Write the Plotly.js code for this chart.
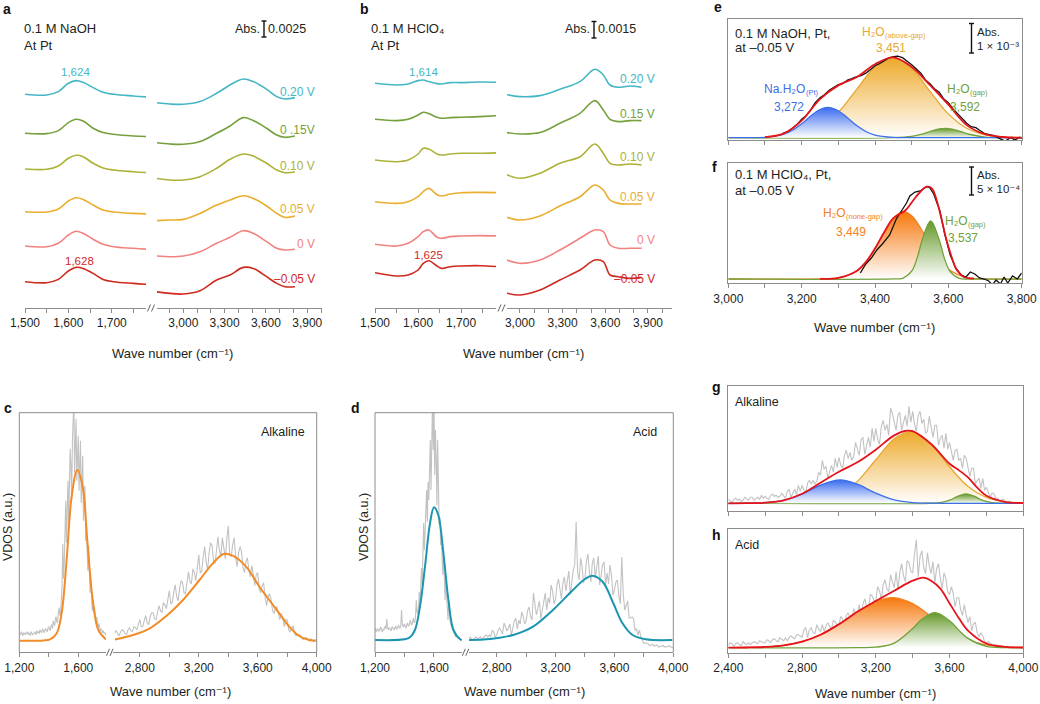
<!DOCTYPE html>
<html>
<head>
<meta charset="utf-8">
<script src="https://cdn.plot.ly/plotly-3.0.1.min.js"></script>
<style>html,body{margin:0;padding:0;background:#fff;}#chart{width:1040px;height:704px;}</style>
</head>
<body>
<div id="chart"></div>
<script>
// ---------------- DATA ----------------
// Panel a: 0.1 M NaOH, stacked spectra (heights relative to each trace's own baseline)
const aPotentials = ['0.20 V', '0 .15V', '0.10 V', '0.05 V', '0 V', '–0.05 V'];
const aOffsets = [215.7, 176.7, 141, 98.3, 64, 28.3];
const aLeftWn = [1500, 1550, 1577, 1600, 1618, 1634, 1657, 1680, 1704, 1750, 1785];
const aRightWn = [2802, 2903, 3000, 3121, 3242, 3339, 3435, 3508, 3605, 3678, 3738, 3810];
const aLeft020 = [0, -0.7, 2.7, 11, 13.7, 12, 6.7, 2, 0, -1.7, -2.7];
const aLeft015 = [0, -0.3, 2.7, 10.7, 14, 12.3, 5, 0.7, -1, -2.7, -3.3];
const aLeft010 = [0, -0.3, 3, 10.7, 13.7, 12.3, 5.7, 1, -1, -2.7, -3.7];
const aLeft005 = [0, -0.3, 2.7, 10.7, 14, 12.3, 6.7, 1.7, -0.3, -1.7, -2.3];
const aLeft000 = [0, -0.7, 2.7, 11, 14.7, 12.7, 6.7, 1.7, -0.7, -2.3, -3.3];
const aLeftM005 = [0, -1, 2.3, 10.7, 14.3, 13.3, 8.3, 2.3, 0, -1.7, -2.7];
const aRight020 = [-8.3, -9.7, -10, -7.3, 1, 9.3, 15.3, 12.7, 5, -2.3, -4.7, -3.3];
const aRight015 = [-9.3, -10.7, -11, -8.3, 0, 7.3, 15.7, 12.7, 5, -1.7, -4, -2.7];
const aRight010 = [-9.3, -11, -11, -7.7, 0.7, 9.7, 15, 13, 5.7, -1, -3.7, -3];
const aRight005 = [-9, -8.3, -7.7, -1.7, 6.7, 11.7, 16, 13.3, 5.7, -1.7, -5.7, -4.3];
const aRight000 = [-10, -10.7, -10, -5.7, 2.7, 8.7, 15.3, 12.7, 4.3, -2.3, -4, -3.3];
const aRightM005 = [-10, -11.7, -12.3, -9, 1.7, 6.7, 14.3, 13.3, 5, -1.7, -5, -5];

// Panel b: 0.1 M HClO4
const bPotentials = ['0.20 V', '0.15 V', '0.10 V', '0.05 V', '0 V', '–0.05 V'];
const bOffsets = [226.7, 190.7, 150, 108.3, 65.7, 37.3];
const bLeftWn = [1500, 1550, 1577, 1600, 1612, 1625, 1644, 1655, 1675, 1700, 1744, 1790];
const bRightWn = [2895, 3000, 3141, 3281, 3422, 3527, 3586, 3633, 3691, 3773, 3855];
const bLeft020 = [0, -1.7, -0.7, 2.7, 3.3, 1.7, -0.3, -0.7, 0.7, 0.7, 1.3, 1];
const bLeft015 = [0, -1.3, 0, 4.3, 7, 5.7, 2, 1, 1.7, 2, 2.7, 3.7];
const bLeft010 = [0, -1.7, 0, 6, 11.7, 11, 6, 5, 6, 6.7, 6.7, 7.3];
const bLeft005 = [0, -1.7, 0, 5, 10, 13.3, 7, 5.7, 7.7, 9, 9.3, 9];
const bLeft000 = [0, -1.7, 1, 7.7, 12.7, 14.3, 7, 6, 7.7, 8.3, 8.7, 8.3];
const bLeftM005 = [0, -3.3, -2.3, 2.7, 9.3, 12, 6.7, 4.3, 6, 6.7, 7, 6];
const bRight020 = [-11, -13.3, -12.3, -6, 1.7, 14, 8.3, -1.7, -4, -2.7, -4];
const bRight015 = [-13, -14.7, -13.3, -4, 6, 18.7, 9.3, 0, -2.3, -1.3, -1.3];
const bRight010 = [-14, -18.3, -13.3, -3.3, 3.3, 16, 6.7, -3.3, -5, -4, -5];
const bRight005 = [-15, -18.3, -14.3, -4.3, 5, 16.7, 11.7, 1.7, -1.7, -2.3, -2.3];
const bRight000 = [-15, -19, -15.7, -5.7, 6, 14.3, 12.7, -0.7, -4, -4, -4];
const bRightM005 = [-20, -22.3, -17.3, -7.3, 2.7, 12.7, 11, -2.3, -4, -5.7, -4.7];

// Panel c: VDOS alkaline
const cGrayLeftStart = 1200, cGrayLeftStep = 5;
const cGrayLeft = [8,6,7,9,6,5,8,7,6,8,7,9,6,8,7,5,9,8,6,7,
 7,9,8,6,10,8,9,7,11,9,8,10,12,9,8,11,12,10,9,13,
 14,11,10,15,16,12,20,17,15,22,24,18,19,28,33,25,
 28,40,55,97,62,78,108,140,98,125,160,118,150,192,175,140,198,210,240,168,190,222,160,185,
 205,150,172,200,138,160,185,120,140,155,100,118,90,70,95,55,48,62,36,30,40,
 28,34,22,18,24,15,13,17,11,10,12,9,8,10,7,8,6,7];
const cGrayRightStart = 2630, cGrayRightStep = 10;
const cGrayRight = [8,10,7,5,9,11,10,7,6,11,
 13,10,9,14,13,11,16,21,14,14,
 20,25,18,16,24,28,28,22,21,30,
 35,30,28,38,36,32,42,50,37,38,
 48,56,44,40,52,60,58,48,47,61,
 69,59,57,72,68,60,76,86,68,69,
 84,94,78,71,88,98,95,80,77,95,
 104,90,85,103,94,82,101,115,86,84,
 96,103,84,74,88,94,89,73,68,79,
 83,70,64,75,66,55,66,68,52,48,
 55,58,43,35,44,47,42,31,27,33,
 34,26,21,27,22,14,21,21,11,9,
 13,15,7,5,6,6,5,2,1,3,
 3,1,0,2,1,-1,1,0];
const cFitLeftWn = [1200, 1363, 1408, 1453, 1487, 1521, 1555, 1593, 1630, 1661, 1698, 1736, 1788];
const cFitLeft = [0, 0.3, 1.3, 7.3, 27.3, 80.7, 144, 170.7, 154, 100.7, 40.7, 10.7, 1.3];
const cFitRightWn = [2631, 2755, 2868, 2980, 3093, 3205, 3295, 3368, 3430, 3521, 3611, 3678, 3746, 3814, 3881, 3949, 3994];
const cFitRight = [1.3, 5.7, 12.3, 24.7, 40.7, 60.7, 77.3, 86.7, 85, 74, 54, 40.7, 27.3, 14, 4.7, 0.7, 0];

// Panel d: VDOS acid
const dGrayLeftStart = 1200, dGrayLeftStep = 5;
const dGrayLeft = [12,10,8,11,11,9,9,12,13,10,8,11,10,12,14,11,21,13,10,12,
 12,10,9,13,13,11,10,12,14,11,11,13,15,12,12,14,30,16,13,15,
 16,13,12,15,17,14,14,17,20,16,15,18,22,17,18,24,40,28,26,32,
 48,35,60,72,55,80,117,90,105,130,150,118,158,140,175,200,150,185,240,190,
 240,165,210,180,135,200,150,115,123,95,100,80,65,90,58,40,60,45,30,20,
 40,25,18,15,13,10,9,7,6,4,3,4,4,2,2,1,1,0,0];
const dGrayRightStart = 2600, dGrayRightStep = 10;
const dGrayRight = [0,2,3,1,0,2,3,1,2,3,
 1,2,4,5,3,5,3,10,8,3,
 5,10,12,8,6,17,13,9,12,16,
 5,12,19,22,11,20,16,28,24,16,
 19,29,33,24,20,47,35,25,32,39,
 21,31,42,47,30,42,37,55,49,36,
 41,55,61,48,41,57,63,49,58,69,
 45,57,70,75,118,68,60,82,74,57,
 62,79,86,68,58,77,82,62,72,84,
 55,64,75,78,55,67,56,75,65,45,
 50,58,60,45,36,83,46,30,34,39,
 22,22,23,21,10,11,5,10,3,-1,
 -3.5,-3,-3,-4,-5.5,-5,-4.5,-6,-5.5,-5,
 -7,-6.5,-6,-5.5,-7,-6.5,-7,-5.7,-6.5,-7.5,-7.5];
const dFitLeftWn = [1200, 1403, 1437, 1471, 1505, 1539, 1573, 1600, 1629, 1664, 1698, 1732, 1777, 1788];
const dFitLeft = [0, 0.7, 2.7, 10, 33.3, 73.3, 116.7, 132.7, 125, 86.7, 40, 10, 0.7, 0];
const dFitRightWn = [2612, 2755, 2912, 3047, 3182, 3318, 3400, 3450, 3520, 3588, 3655, 3723, 3813, 3993];
const dFitRight = [0, 1, 5, 13.3, 30, 50, 61, 64.3, 58.3, 38.3, 16.7, 5, 0.7, 0];

// Panel e: NaOH fit
const eOrangeWn = [3000, 3100, 3150, 3200, 3250, 3300, 3350, 3400, 3448, 3500, 3550, 3600, 3650, 3700, 3750, 3800];
const eOrange = [0, 0.14, 0.76, 3.2, 10.3, 25.4, 48.4, 70.9, 80, 69.4, 46.4, 23.8, 9.4, 2.9, 0.67, 0.12];
const eGreenWn = [3000, 3450, 3500, 3525, 3550, 3575, 3592, 3610, 3635, 3660, 3700, 3750, 3800];
const eGreen = [0, 0.08, 1.3, 3.3, 6.2, 8.7, 9.3, 8.6, 6.0, 3.2, 0.6, 0.03, 0];
const eBlueWn = [3000, 3050, 3100, 3150, 3175, 3200, 3225, 3250, 3272, 3300, 3325, 3350, 3375, 3400, 3450, 3500, 3800];
const eBlue = [0, 0.02, 0.36, 3.2, 7.4, 13.9, 21.7, 28.2, 30.3, 26.9, 19.9, 12.1, 6.2, 2.6, 0.26, 0, 0];
const eRedWn = [3100, 3150, 3200, 3250, 3300, 3350, 3400, 3450, 3500, 3550, 3600, 3650, 3700, 3750, 3800];
const eRed = [0.5, 4.0, 17.1, 38.5, 52.3, 60.5, 73.5, 80.3, 70.7, 52.6, 33.0, 12.6, 3.5, 0.7, 0.1];
const eBlackWn = [3150,3162,3175,3187,3200,3212,3225,3237,3250,3262,3275,3287,3300,3312,3325,3337,3350,3362,3375,3387,3400,3412,3425,3437,3450,3462,3475,3487,3500,3512,3525,3537,3550,3562,3575,3587,3600,3612,3625,3637,3650,3662,3675,3687,3700,3712,3725,3735,3745,3755,3765,3772,3780,3788,3795,3800];
const eBlack = [4.5,6,9.5,13,18.5,22,28,35,40,43,47.5,50,53,54,57.5,59,61,62,64.5,68,72,74,77,79.5,81,81.5,80,77,73,69,64.5,58,54,49,45.5,39,35,29,24,19,14.5,11,10,7,4,3,2,0,-2,-3.5,-1,0.5,-2.5,-1,0.5,-1];

// Panel f: HClO4 fit
const fOrangeWn = [3000, 3250, 3300, 3350, 3375, 3400, 3425, 3450, 3478, 3500, 3525, 3550, 3575, 3600, 3650, 3700, 3800];
const fOrange = [0, 0.08, 1.1, 8.0, 16.9, 30.5, 46.7, 60.8, 67.3, 63.2, 50.5, 34.3, 19.8, 9.7, 1.4, 0.1, 0];
const fGreenWn = [3000, 3450, 3475, 3500, 3515, 3530, 3552, 3575, 3590, 3605, 3630, 3660, 3800];
const fGreen = [0, 0.03, 0.7, 7.8, 21.1, 40.6, 58, 39.2, 19.9, 7.3, 0.6, 0, 0];
const fRedWn = [3250, 3300, 3350, 3375, 3400, 3425, 3450, 3484, 3505, 3523, 3541, 3555, 3568, 3582, 3595, 3609, 3623, 3641, 3670];
const fRed = [0.1, 1.1, 8.0, 16.9, 30.5, 46.7, 60.8, 69, 79, 87, 92.3, 90.7, 79, 59, 39, 22, 9, 2.3, 0.3];
const fBlackWn = [3360,3375,3390,3405,3420,3440,3458,3472,3486,3495,3509,3523,3541,3550,3560,3577,3590,3605,3620,3635,3648,3660,3672,3685,3698,3710,3720,3730,3742,3752,3762,3775,3788,3800];
const fBlack = [6,15,21,29,35,44,60,68,76,83,87,88,92.3,91,85,68,45,24,11,4,2,7,5,1,0,-2,-6,-1,-5,2,-4,3,0,6];

// Panel g: alkaline VDOS decomposition
const gGrayStart = 2400, gGrayStep = 10;
const gGray = [4,2,1,4,5,3,4,2,3,6,
 4,3,6,6,3,5,6,4,8,5,
 7,5,4,8,9,7,8,6,7,10,
 8,5,12,14,6,11,14,9,18,12,
 18,13,11,20,23,19,23,19,22,31,
 28,43,34,37,25,32,38,31,45,36,
 46,38,35,48,53,45,51,43,47,61,
 55,48,63,66,49,59,66,56,75,62,
 75,64,59,77,83,73,79,68,95,90,
 81,73,88,91,73,82,88,77,97,81,
 92,79,72,88,92,80,84,70,72,87,
 76,66,78,78,58,65,68,55,70,54,
 61,50,43,53,54,43,45,35,48,45,
 36,27,35,35,19,23,25,15,25,13,
 16,10,6,10,10,5,5,3,3,4,
 2,1,2,2,0,1,1,0,1,0,0];
const gOrangeWn = [2400, 2600, 2700, 2800, 2900, 3000, 3100, 3200, 3300, 3385, 3400, 3500, 3600, 3700, 3800, 3900, 4000];
const gOrange = [0, 0, 0.08, 0.5, 2.3, 8.2, 21.9, 43.5, 64.5, 71.7, 71.5, 59.1, 36.5, 16.8, 5.8, 1.5, 0.3];
const gGreenWn = [2400, 3500, 3550, 3600, 3650, 3689, 3730, 3780, 3830, 3880, 4000];
const gGreen = [0, 0.07, 0.6, 3.1, 7.5, 9.3, 7.4, 2.9, 0.6, 0.06, 0];
const gBlueWn = [2400, 2500, 2600, 2700, 2800, 2900, 3006, 3100, 3200, 3300, 3400, 3500, 3600, 4000];
const gBlue = [0.01, 0.08, 0.6, 2.9, 9.1, 18.2, 23.3, 19.1, 10.1, 3.4, 0.74, 0.1, 0.01, 0];
const gRedWn = [2400, 2500, 2600, 2700, 2800, 2900, 3000, 3100, 3200, 3300, 3369, 3400, 3500, 3600, 3650, 3700, 3750, 3800, 3900, 4000];
const gRed = [0.01, 0.08, 0.6, 3.0, 9.6, 20.5, 31.5, 41.0, 53.6, 67.9, 72.6, 72.2, 59.3, 39.6, 33.2, 25.9, 15.7, 7.5, 1.5, 0.3];

// Panel h: acid VDOS decomposition
const hGrayStart = 2400, hGrayStep = 10;
const hGray = [2,5,4,1,4,5,3,2,6,4,
 3,5,3,5,6,5,4,7,6,5,
 5,8,7,5,8,9,7,6,10,8,
 7,10,7,10,12,10,9,13,13,12,
 10,18,20,10,18,20,15,14,23,19,
 16,23,16,22,25,21,19,27,26,23,
 23,31,29,23,32,35,30,29,39,35,
 32,43,31,43,49,41,38,53,52,47,
 47,61,57,48,63,68,59,56,73,66,
 60,76,58,75,84,72,66,87,85,76,
 75,94,108,71,91,97,80,74,95,82,
 74,86,65,79,84,69,59,75,69,56,
 53,61,54,41,50,50,38,32,43,33,
 25,31,17,24,25,15,11,15,12,6,
 5,6,5,3,3,3,2,1,2,1,
 1,1,1,0,1,0,0,0,0,0,0];
const hOrangeWn = [2400, 2500, 2600, 2700, 2800, 2900, 3000, 3100, 3200, 3295, 3400, 3500, 3600, 3700, 3800, 3900, 4000];
const hOrange = [0.05, 0.2, 0.75, 2.3, 6.0, 12.9, 23.5, 35.9, 46.2, 50, 44.1, 31.0, 17.4, 7.8, 2.8, 0.8, 0.2];
const hGreenWn = [2400, 3100, 3200, 3300, 3400, 3450, 3521, 3600, 3650, 3700, 3800, 3900, 4000];
const hGreen = [0, 0.02, 0.5, 4.6, 19.1, 28.4, 35, 27.0, 17.6, 9.3, 1.4, 0.1, 0];
const hRedWn = [2400, 2500, 2600, 2700, 2800, 2900, 3000, 3100, 3200, 3300, 3400, 3458, 3500, 3550, 3600, 3650, 3700, 3800, 3900, 4000];
const hRed = [0.05, 0.2, 0.75, 2.3, 6.0, 12.9, 23.5, 35.9, 46.7, 57, 67, 70, 67, 59, 44.4, 29.6, 17.1, 4.2, 0.9, 0.2];

// ---------------- STYLE ----------------
const W = 1040, H = 704;
const FONT = '"Liberation Sans", Arial, Helvetica, "DejaVu Sans", sans-serif';
const TXT = '#231f20', AX = '#8c8c8c';
const fx = p => p / W, fy = p => 1 - p / H;
const potColors = ['#45b6c4', '#76a03c', '#adb236', '#eaae2e', '#f2827e', '#cf2a1f'];
const GRAY = '#c2c2c2';
const C_BLUE = '#3d6fe6', F_BLUE = '#3a6cf0';
const C_GOLD = '#e8a732', F_GOLD = '#eda92a';
const C_ORNG = '#f5801c', F_ORNG = '#f6780c';
const C_GRN = '#71a13a', F_GRN = '#66992a';
const C_RED = '#e5141b';

const traces = [];
function line(x, y, xa, ya, color, width, shape) {
  return {x, y, xaxis: xa, yaxis: ya, mode: 'lines', hoverinfo: 'skip',
          line: {color, width, shape: shape || 'spline', smoothing: 1}};
}
function uline(x0, dx, y, xa, ya, color, width) {
  return {x0, dx, y, xaxis: xa, yaxis: ya, mode: 'lines', hoverinfo: 'skip',
          line: {color, width, shape: 'linear'}};
}
function comp(x, y, xa, ya, color, fillc) {
  return {x, y, xaxis: xa, yaxis: ya, mode: 'lines', hoverinfo: 'skip',
          line: {color, width: 1.3, shape: 'spline', smoothing: 1},
          fill: 'tozeroy',
          fillgradient: {type: 'vertical', colorscale: [[0, 'rgba(255,255,255,1)'], [1, fillc]]}};
}

const aLeftSeries = [aLeft020, aLeft015, aLeft010, aLeft005, aLeft000, aLeftM005];
const aRightSeries = [aRight020, aRight015, aRight010, aRight005, aRight000, aRightM005];
for (let i = 0; i < 6; i++) {
  traces.push(line(aLeftWn, aLeftSeries[i].map(v => v + aOffsets[i]), 'x', 'y', potColors[i], 1.6));
  traces.push(line(aRightWn, aRightSeries[i].map(v => v + aOffsets[i]), 'x2', 'y', potColors[i], 1.6));
}
const bLeftSeries = [bLeft020, bLeft015, bLeft010, bLeft005, bLeft000, bLeftM005];
const bRightSeries = [bRight020, bRight015, bRight010, bRight005, bRight000, bRightM005];
for (let i = 0; i < 6; i++) {
  traces.push(line(bLeftWn, bLeftSeries[i].map(v => v + bOffsets[i]), 'x3', 'y2', potColors[i], 1.6));
  traces.push(line(bRightWn, bRightSeries[i].map(v => v + bOffsets[i]), 'x4', 'y2', potColors[i], 1.6));
}
traces.push(uline(cGrayLeftStart, cGrayLeftStep, cGrayLeft, 'x5', 'y3', GRAY, 1.1));
traces.push(uline(cGrayRightStart, cGrayRightStep, cGrayRight, 'x6', 'y3', GRAY, 1.1));
traces.push(line(cFitLeftWn, cFitLeft, 'x5', 'y3', '#f28c28', 2));
traces.push(line(cFitRightWn, cFitRight, 'x6', 'y3', '#f28c28', 2));
traces.push(uline(dGrayLeftStart, dGrayLeftStep, dGrayLeft, 'x7', 'y4', GRAY, 1.1));
traces.push(uline(dGrayRightStart, dGrayRightStep, dGrayRight, 'x8', 'y4', GRAY, 1.1));
traces.push(line(dFitLeftWn, dFitLeft, 'x7', 'y4', '#1b95b0', 2));
traces.push(line(dFitRightWn, dFitRight, 'x8', 'y4', '#1b95b0', 2));
traces.push(comp(eOrangeWn, eOrange, 'x9', 'y5', C_GOLD, F_GOLD));
traces.push(comp(eGreenWn, eGreen, 'x9', 'y5', C_GRN, F_GRN));
traces.push(comp(eBlueWn, eBlue, 'x9', 'y5', C_BLUE, F_BLUE));
traces.push(line(eBlackWn, eBlack, 'x9', 'y5', '#111111', 1.3, 'linear'));
traces.push(line(eRedWn, eRed, 'x9', 'y5', C_RED, 1.8));
traces.push(comp(fOrangeWn, fOrange, 'x10', 'y6', C_ORNG, F_ORNG));
traces.push(comp(fGreenWn, fGreen, 'x10', 'y6', C_GRN, F_GRN));
traces.push(line(fBlackWn, fBlack, 'x10', 'y6', '#111111', 1.3, 'linear'));
traces.push(line(fRedWn, fRed, 'x10', 'y6', C_RED, 1.8));
traces.push(uline(gGrayStart, gGrayStep, gGray, 'x11', 'y7', GRAY, 1.1));
traces.push(comp(gOrangeWn, gOrange, 'x11', 'y7', C_GOLD, F_GOLD));
traces.push(comp(gGreenWn, gGreen, 'x11', 'y7', C_GRN, F_GRN));
traces.push(comp(gBlueWn, gBlue, 'x11', 'y7', C_BLUE, F_BLUE));
traces.push(line(gRedWn, gRed, 'x11', 'y7', C_RED, 1.8));
traces.push(uline(hGrayStart, hGrayStep, hGray, 'x12', 'y8', GRAY, 1.1));
traces.push(comp(hOrangeWn, hOrange, 'x12', 'y8', C_ORNG, F_ORNG));
traces.push(comp(hGreenWn, hGreen, 'x12', 'y8', C_GRN, F_GRN));
traces.push(line(hRedWn, hRed, 'x12', 'y8', C_RED, 1.8));

// ---------------- AXES ----------------
function xAxis(d0, d1, r0, r1, anchor, dtick, tick0, minorDtick, labels, showline, mirror) {
  return {
    domain: [fx(d0), fx(d1)], range: [r0, r1], anchor,
    tickmode: 'linear', tick0, dtick, tickformat: ',d',
    ticks: 'outside', ticklen: 4, tickwidth: 1, tickcolor: AX,
    minor: {tickmode: 'linear', tick0, dtick: minorDtick, ticks: 'outside', ticklen: 4, tickwidth: 1, tickcolor: AX, showgrid: false},
    showticklabels: labels, tickfont: {family: FONT, size: 12, color: TXT},
    showline, linecolor: AX, linewidth: 1, mirror: !!mirror,
    showgrid: false, zeroline: false, fixedrange: true
  };
}
function yAxis(top, bottom, r0, r1, anchor, box) {
  return {
    domain: [fy(bottom), fy(top)], range: [r0, r1], anchor,
    visible: box, showline: box, mirror: box, linecolor: AX, linewidth: 1,
    ticks: '', showticklabels: false, showgrid: false, zeroline: false, fixedrange: true
  };
}

// ---------------- ANNOTATIONS ----------------
const ann = [];
function T(x, y, text, anchor, size, color, extra) {
  ann.push(Object.assign({x: fx(x), y: fy(y), xref: 'paper', yref: 'paper', text, showarrow: false,
    xanchor: anchor || 'left', yanchor: 'middle',
    font: {family: FONT, size: size || 12.5, color: color || TXT}}, extra || {}));
}
// species label: main text + lowered small subscript, laid out from a centre point
function species(cx, y, main, mainW, sub, subW, color) {
  const left = cx - (mainW + subW) / 2;
  T(left, y, main, 'left', 12, color);
  T(left + mainW, y + 3.5, sub, 'left', 7.5, color);
}
const WN = 'Wave number (cm⁻¹)';
[['a', 1, 9], ['b', 358, 9], ['c', 2, 408], ['d', 349, 408], ['e', 712, 7], ['f', 710, 167], ['g', 710, 387], ['h', 710, 535]]
  .forEach(p => T(p[1], p[2], '<b>' + p[0] + '</b>', 'left', 14, '#111'));
T(22, 29, '0.1 M NaOH', 'left', 13); T(22, 45, 'At Pt', 'left', 13);
T(262, 29, 'Abs.', 'right', 12.5); T(266, 29, '0.0025', 'left', 12.5);
T(75, 72, '1,624', 'center', 11.5, potColors[0]);
T(79, 261, '1,628', 'center', 11.5, potColors[5]);
const aLabY = [92, 130, 166, 209, 244, 279];
aPotentials.forEach((t, i) => T(317, aLabY[i], t, 'right', 12, potColors[i]));
T(172, 353, WN, 'center', 13);
T(369, 29, '0.1 M HClO₄', 'left', 13); T(369, 45, 'At Pt', 'left', 13);
T(592, 29, 'Abs.', 'right', 12.5); T(596, 29, '0.0015', 'left', 12.5);
T(423, 72, '1,614', 'center', 11.5, potColors[0]);
T(428, 255, '1,625', 'center', 11.5, potColors[5]);
const bLabY = [79, 114, 157, 197, 240, 279];
bPotentials.forEach((t, i) => T(657, bLabY[i], t, 'right', 12, potColors[i]));
T(523, 353, WN, 'center', 13);
T(307, 432, 'Alkaline', 'right', 12.5);
T(8, 527, 'VDOS (a.u.)', 'center', 12.5, TXT, {textangle: -90});
T(170, 691, WN, 'center', 13);
T(659, 432, 'Acid', 'right', 12.5);
T(364, 527, 'VDOS (a.u.)', 'center', 12.5, TXT, {textangle: -90});
T(524, 691, WN, 'center', 13);
T(733, 33, '0.1 M NaOH, Pt,', 'left', 13); T(733, 47, 'at –0.05 V', 'left', 13);
species(891, 32, 'H₂O', 23, '(above-gap)', 40, C_GOLD);
T(891, 48, '3,451', 'center', 12, C_GOLD);
species(789, 89, 'Na.H₂O', 41.5, '(Pt)', 12, C_BLUE);
T(789, 107, '3,272', 'center', 12, C_BLUE);
species(965, 89, 'H₂O', 23, '(gap)', 17.5, C_GRN);
T(965, 107, '3,592', 'center', 12, C_GRN);
T(975, 32, 'Abs.', 'left', 11.5); T(975, 46, '1 × 10⁻³', 'left', 11.5);
T(733, 175, '0.1 M HClO₄, Pt,', 'left', 13); T(733, 191, 'at –0.05 V', 'left', 13);
species(851, 213, 'H₂O', 23, '(none-gap)', 36.5, C_ORNG);
T(851, 232, '3,449', 'center', 12, C_ORNG);
species(963, 221, 'H₂O', 23, '(gap)', 17.5, C_GRN);
T(963, 238, '3,537', 'center', 12, C_GRN);
T(975, 175, 'Abs.', 'left', 11.5); T(975, 189, '5 × 10⁻⁴', 'left', 11.5);
T(874, 327, WN, 'center', 13);
T(733, 402, 'Alkaline', 'left', 12.5);
T(733, 545, 'Acid', 'left', 12.5);
T(875, 693, WN, 'center', 13);

// ---------------- SHAPES ----------------
const shapes = [];
function L(x0, y0, x1, y1, color, width) {
  shapes.push({type: 'line', xref: 'paper', yref: 'paper', x0: fx(x0), y0: fy(y0), x1: fx(x1), y1: fy(y1),
               line: {color: color || AX, width: width || 1}});
}
function brk(xa, xb, yAxisPx) {
  L(xa, yAxisPx + 3.5, xa + 3, yAxisPx - 3.5, '#666', 1);
  L(xb, yAxisPx + 3.5, xb + 3, yAxisPx - 3.5, '#666', 1);
}
brk(147.5, 151.5, 308);
brk(498, 502, 308);
brk(106.5, 110, 652.3);
brk(462.3, 465.8, 652.3);
L(19.3, 412.7, 19.3, 652.3); L(19.3, 412.7, 316.7, 412.7); L(316.7, 412.7, 316.7, 652.3);
L(375, 412.7, 375, 652.3); L(375, 412.7, 673.3, 412.7); L(673.3, 412.7, 673.3, 652.3);
function bar(x, y0, y1) { L(x, y0, x, y1, '#111', 1.4); L(x - 2.5, y0, x + 2.5, y0, '#111', 1.4); L(x - 2.5, y1, x + 2.5, y1, '#111', 1.4); }
bar(264, 21, 37);
bar(594, 21.5, 38);
bar(971.5, 23.5, 53);
bar(971.5, 167, 195);

const layout = {
  width: W, height: H, margin: {l: 0, r: 0, t: 0, b: 0},
  paper_bgcolor: '#ffffff', plot_bgcolor: 'rgba(0,0,0,0)', showlegend: false,
  font: {family: FONT, size: 12, color: TXT}, hovermode: false,
  xaxis: xAxis(25, 146, 1500, 1779, 'y', 100, 1500, 50, true, true),
  xaxis2: xAxis(157, 322, 2809, 4007, 'y', 300, 3000, 100, true, true),
  yaxis: yAxis(48, 308, 2, 262, 'x', false),
  xaxis3: xAxis(375, 496, 1500, 1781, 'y2', 100, 1500, 50, true, true),
  xaxis4: xAxis(507, 672, 2909, 4069, 'y2', 300, 3000, 100, true, true),
  yaxis2: yAxis(48, 308, 2, 262, 'x3', false),
  xaxis5: xAxis(19.3, 106, 1200, 1788, 'y3', 400, 1200, 200, true, true),
  xaxis6: xAxis(113, 316.7, 2618, 4000, 'y3', 400, 2800, 200, true, true),
  yaxis3: yAxis(412.7, 652.3, -11.6, 228, 'x5', false),
  xaxis7: xAxis(375, 462, 1200, 1790, 'y4', 400, 1200, 200, true, true),
  xaxis8: xAxis(469, 673.3, 2612, 4000, 'y4', 400, 2800, 200, true, true),
  yaxis4: yAxis(412.7, 652.3, -12.3, 227.3, 'x7', false),
  xaxis9: xAxis(728.3, 1021.7, 3000, 3800, 'y5', 200, 3000, 100, false, true, true),
  yaxis5: yAxis(19.3, 140, -2.3, 118.4, 'x9', true),
  xaxis10: xAxis(728.3, 1021.7, 3000, 3800, 'y6', 200, 3000, 100, true, true, true),
  yaxis6: yAxis(163.3, 283.3, -4.3, 115.7, 'x10', true),
  xaxis11: xAxis(728.3, 1023.3, 2400, 4000, 'y7', 400, 2400, 200, false, true, true),
  yaxis7: yAxis(386, 510.7, -7.4, 117.3, 'x11', true),
  xaxis12: xAxis(728.3, 1023.3, 2400, 4000, 'y8', 400, 2400, 200, true, true, true),
  yaxis8: yAxis(529, 652.7, -5, 118.7, 'x12', true),
  annotations: ann, shapes: shapes
};
Plotly.newPlot('chart', traces, layout, {staticPlot: true, displayModeBar: false});
</script>
</body>
</html>
